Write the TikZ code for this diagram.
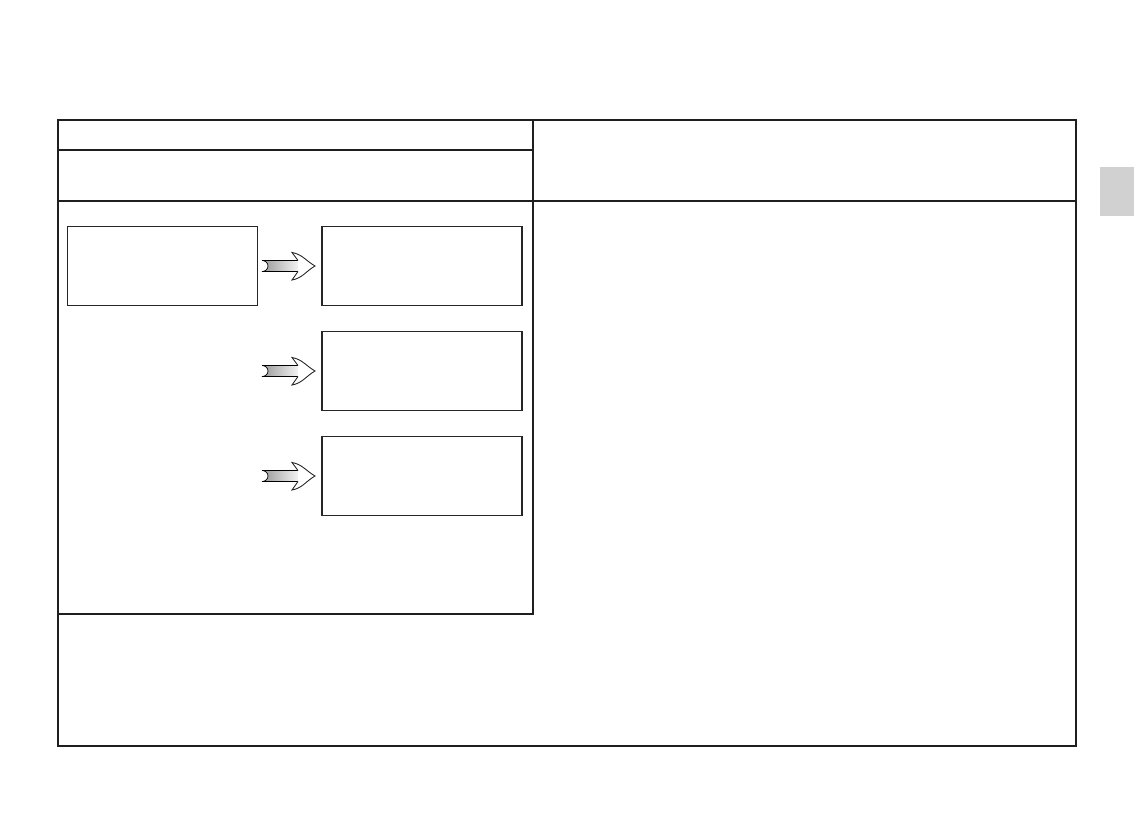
\documentclass[tikz,border=0pt]{standalone}
\usepackage{tikz}
\usetikzlibrary{positioning,calc}

\tikzset{
  panel/.style={draw=black!85,line width=.6pt,minimum width=4cm,minimum height=1.58cm,inner sep=0pt},
  frameline/.style={draw=black!88,line width=1.6pt},
  fatarrow/.pic={
    % shaft with a notched tail
    \shade[left color=gray!80,right color=gray!8,draw=black,line width=.4pt]
      (-26,-5.5) -- (11,-5.5) -- (11,5.5) -- (-26,5.5) to[out=0,in=-90] (-20,0) to[out=90,in=0] (-26,-5.5);
    % open head
    \filldraw[fill=white,draw=black!85,line width=.5pt]
      (10,-5.5) -- (4,-13.5) to[out=-10,in=150] (27,0) to[out=-150,in=10] (4,14) -- (10,5.5);
  }
}

\begin{document}
\begin{tikzpicture}[x=0.02cm,y=-0.02cm]
  \useasboundingbox (0,0) rectangle (1134,839);

  % table frame
  \draw[frameline] (58,120) rectangle (1076,746);
  \draw[frameline] (533,120) -- (533,614) -- (58,614);
  \draw[frameline] (58,150) -- (533,150);
  \draw[frameline] (58,201) -- (1076,201);

  % side tab
  \fill[gray!36] (1100,167) rectangle (1134,216);

  % boxes
  \node[panel,minimum width=3.8cm] (src) at (162.5,266) {};
  \node[panel] (outA) at (422,266) {};
  \node[panel] (outB) at (422,371) {};
  \node[panel] (outC) at (422,476) {};

  % arrows
  \pic at (288,266) {fatarrow};
  \pic at (288,371) {fatarrow};
  \pic at (288,476) {fatarrow};
\end{tikzpicture}
\end{document}
